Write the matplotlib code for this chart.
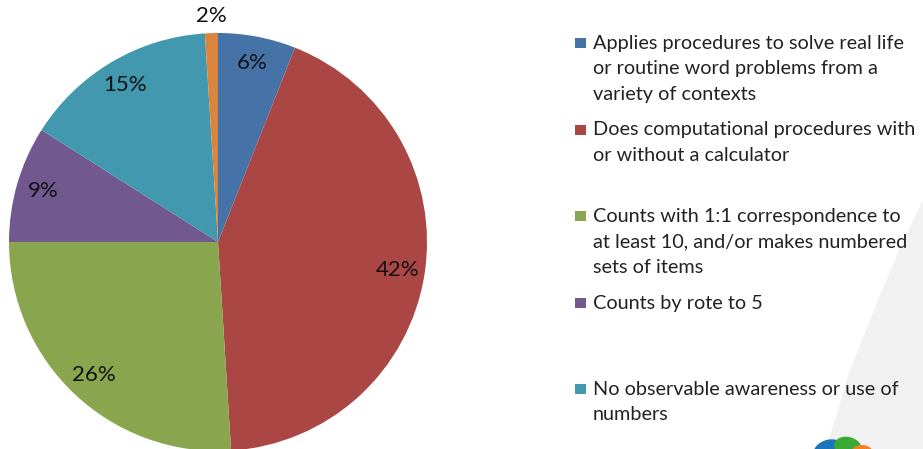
import matplotlib.pyplot as plt
import numpy as np
from matplotlib.patches import Rectangle, Polygon, Ellipse

plt.rcParams['font.family'] = ['Lato', 'DejaVu Sans']

# slice data, clockwise from 12 o'clock
categories = [
    "Applies procedures to solve real life\nor routine word problems from a\nvariety of contexts",
    "Does computational procedures with\nor without a calculator",
    "Counts with 1:1 correspondence to\nat least 10, and/or makes numbered\nsets of items",
    "Counts by rote to 5",
    "No observable awareness or use of\nnumbers",
    "Other",
]
shares = [6.0, 43.0, 26.0, 9.0, 15.0, 1.0]
pct_labels = ["6%", "42%", "26%", "9%", "15%", "2%"]
colors = ["#4572A7", "#AA4643", "#89A54E", "#71588F", "#4198AF", "#DB843D"]
legend_count = 5  # the last slice has no legend entry

W, H = 923, 449
fig = plt.figure(figsize=(W / 100, H / 100), dpi=100)
fig.patch.set_facecolor("white")

# faint background swoosh at bottom right
bg = fig.add_axes([0, 0, 1, 1], zorder=0)
bg.set_xlim(0, W)
bg.set_ylim(H, 0)
bg.axis("off")
swoosh = Polygon([(923, 200), (900, 248), (878, 300), (850, 370), (826, 449), (923, 449)],
                 closed=True, facecolor="#f1f1f1", edgecolor="none")
bg.add_patch(swoosh)
bg.add_patch(Ellipse((828, 450), 30, 20, angle=-20, facecolor="#1a75bb", edgecolor="none"))
bg.add_patch(Ellipse((848, 447), 28, 20, angle=15, facecolor="#3aaa35", edgecolor="none"))
bg.add_patch(Ellipse((862, 453), 22, 16, angle=0, facecolor="#f58220", edgecolor="none"))

# pie axes: center (218, 242) px, radius 209 px
cx, cy, r = 218, 242, 209
ax = fig.add_axes([(cx - r) / W, (H - cy - r) / H, 2 * r / W, 2 * r / H], zorder=1)
wedges, _ = ax.pie(shares, colors=colors, startangle=90, counterclock=False,
                   wedgeprops=dict(edgecolor="none"))
ax.set_xlim(-1, 1)
ax.set_ylim(-1, 1)
ax.set_aspect("equal")

for i, (w, lab) in enumerate(zip(wedges, pct_labels)):
    mid = np.deg2rad((w.theta1 + w.theta2) / 2)
    d = 1.08 if shares[i] < 3 else 0.87
    ax.text(d * np.cos(mid), d * np.sin(mid), lab, ha="center", va="center",
            fontsize=16, color="#111111", clip_on=False)

# legend drawn by hand: equal spacing per entry like the original
lg = fig.add_axes([0, 0, 1, 1], zorder=2)
lg.set_xlim(0, W)
lg.set_ylim(H, 0)
lg.axis("off")
y0, step = 43, 86.5
for i in range(legend_count):
    y = y0 + i * step
    lg.add_patch(Rectangle((575, y - 5), 11, 10, facecolor=colors[i], edgecolor="none"))
    lg.text(593, y - 8, categories[i], ha="left", va="top", fontsize=14.3,
            color="#222222", linespacing=1.6)

fig.savefig("out.png", dpi=100)
